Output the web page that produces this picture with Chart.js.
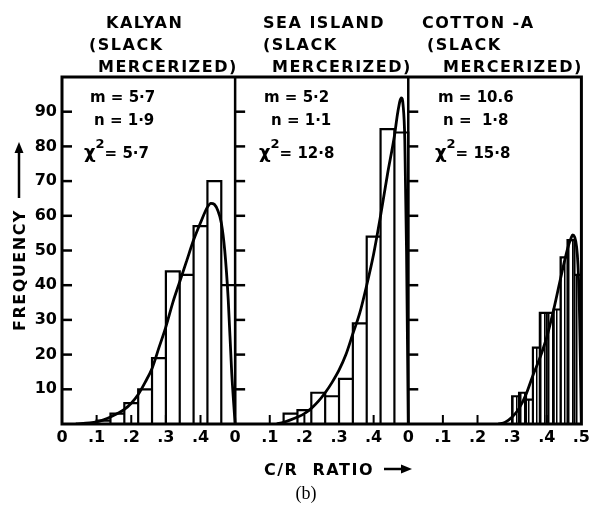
<!DOCTYPE html>
<html lang="en">
<head>
<meta charset="UTF-8">
<title>C/R ratio distributions</title>
<script src="https://cdn.jsdelivr.net/npm/chart.js"></script>
<style>
  html, body { margin: 0; padding: 0; background: #fff; }
  #wrap { width: 594px; height: 510px; }
</style>
</head>
<body>
<div id="wrap"><canvas id="crChart" width="594" height="510"></canvas></div>
<script>
// shared x axis: three panels, each running 0 - 0.5
const xTickValues = [0, 0.1, 0.2, 0.3, 0.4, 0.5, 0.6, 0.7, 0.8, 0.9, 1.0, 1.1, 1.2, 1.3, 1.4, 1.5];
const xTickLabels = ['0', '.1', '.2', '.3', '.4', '0', '.1', '.2', '.3', '.4', '0', '.1', '.2', '.3', '.4', '.5'];
const yTickValues = [10, 20, 30, 40, 50, 60, 70, 80, 90];
const panelOffsets = [0, 0.5, 1.0];

const panelTitles = [
    ['KALYAN', '(SLACK', 'MERCERIZED)'],
    ['SEA ISLAND', '(SLACK', 'MERCERIZED)'],
    ['COTTON -A', '(SLACK', 'MERCERIZED)']
];
const panelM = ['m = 5·7', 'm = 5·2', 'm = 10.6'];
const panelN = ['n = 1·9', 'n = 1·1', 'n =  1·8'];
const panelChi = ['= 5·7', '= 12·8', '= 15·8'];

// Kalyan
const kalyanEdges = [0.10, 0.14, 0.18, 0.22, 0.26, 0.30, 0.34, 0.38, 0.42, 0.46, 0.50];
const kalyanFreq = [1, 3, 6, 10, 19, 44, 43, 57, 70, 40];
const kalyanCurveX = [0.04, 0.08, 0.10, 0.12, 0.14, 0.16, 0.18, 0.20, 0.22, 0.24, 0.26, 0.28, 0.30, 0.32, 0.34, 0.36, 0.38, 0.40, 0.42, 0.43, 0.44, 0.45, 0.46, 0.47, 0.48, 0.49, 0.50];
const kalyanCurveY = [0, 0.3, 0.6, 1.2, 2, 3, 4.2, 6, 8.5, 12, 16, 22, 28, 35, 41, 47, 53, 58, 62.5, 63.6, 63.3, 61.5, 58, 50, 36, 15, 0];

// Sea Island
const seaEdges = [0.14, 0.18, 0.22, 0.26, 0.30, 0.34, 0.38, 0.42, 0.46, 0.50];
const seaFreq = [3, 4, 9, 8, 13, 29, 54, 85, 84];
const seaCurveX = [0.12, 0.14, 0.16, 0.18, 0.20, 0.22, 0.24, 0.26, 0.28, 0.30, 0.32, 0.34, 0.36, 0.38, 0.40, 0.42, 0.44, 0.46, 0.47, 0.48, 0.485, 0.49, 0.495, 0.50];
const seaCurveY = [0, 0.5, 1.2, 2, 3, 4.5, 6.5, 9, 12, 15.5, 20, 26, 32, 40, 49, 60, 72, 83, 90, 94, 92, 82, 50, 0];

// Cotton-A
const cottonEdges = [0.30, 0.32, 0.34, 0.36, 0.38, 0.40, 0.42, 0.44, 0.46, 0.48, 0.50];
const cottonFreq = [8, 9, 7, 22, 32, 32, 33, 48, 53, 43];
const cottonCurveX = [0.26, 0.28, 0.30, 0.32, 0.34, 0.36, 0.38, 0.40, 0.42, 0.44, 0.46, 0.47, 0.475, 0.48, 0.49, 0.495, 0.50];
const cottonCurveY = [0, 0.5, 2, 4.5, 8.5, 14, 19, 25, 33, 42, 50.5, 53.5, 54.5, 54, 46, 30, 0];

function histOutline(edges, freq, off) {
    const pts = [];
    for (let i = 0; i < freq.length; i++) {
        pts.push({x: edges[i] + off, y: 0}, {x: edges[i] + off, y: freq[i]},
                 {x: edges[i + 1] + off, y: freq[i]}, {x: edges[i + 1] + off, y: 0});
    }
    return pts;
}
function curvePoints(xs, ys, off) {
    return xs.map((v, i) => ({x: v + off, y: ys[i]}));
}

// vertical hatching used inside the Cotton-A bars
function hatch() {
    const c = document.createElement('canvas');
    c.width = 4; c.height = 4;
    const g = c.getContext('2d');
    g.fillStyle = '#000';
    g.fillRect(0, 0, 1.5, 4);
    return g.createPattern(c, 'repeat');
}

const histStyle = {showLine: true, borderColor: '#000', borderWidth: 2.2, pointRadius: 0, tension: 0, fill: false};
const curveStyle = {showLine: true, borderColor: '#000', borderWidth: 2.8, pointRadius: 0, cubicInterpolationMode: 'monotone', fill: false};

const datasets = [
    Object.assign({data: histOutline(kalyanEdges, kalyanFreq, panelOffsets[0])}, histStyle),
    Object.assign({data: histOutline(seaEdges, seaFreq, panelOffsets[1])}, histStyle),
    Object.assign({data: histOutline(cottonEdges, cottonFreq, panelOffsets[2])}, histStyle, {fill: 'origin', backgroundColor: hatch()}),
    Object.assign({data: curvePoints(kalyanCurveX, kalyanCurveY, panelOffsets[0])}, curveStyle),
    Object.assign({data: curvePoints(seaCurveX, seaCurveY, panelOffsets[1])}, curveStyle),
    Object.assign({data: curvePoints(cottonCurveX, cottonCurveY, panelOffsets[2])}, curveStyle)
];

const FONT = 'DejaVu Sans';

function drawArrowHead(ctx, x, y, dir) {
    ctx.beginPath();
    if (dir === 'up') {
        ctx.moveTo(x, y); ctx.lineTo(x - 4.5, y + 11); ctx.lineTo(x + 4.5, y + 11);
    } else {
        ctx.moveTo(x, y); ctx.lineTo(x - 11, y - 4.5); ctx.lineTo(x - 11, y + 4.5);
    }
    ctx.closePath();
    ctx.fill();
}

const framePlugin = {
    id: 'frame',
    afterDatasetsDraw(chart) {
        const {ctx, chartArea: a, scales: {x, y}} = chart;
        ctx.save();
        ctx.strokeStyle = '#000';
        ctx.lineWidth = 3;
        ctx.strokeRect(a.left, a.top, a.right - a.left, a.bottom - a.top);
        ctx.lineWidth = 2.5;
        [0.5, 1.0].forEach(v => {
            const px = x.getPixelForValue(v);
            ctx.beginPath(); ctx.moveTo(px, a.top); ctx.lineTo(px, a.bottom); ctx.stroke();
        });
        // inward y ticks on each panel's left edge
        ctx.lineWidth = 2.5;
        panelOffsets.forEach(off => {
            const px = x.getPixelForValue(off);
            yTickValues.forEach(v => {
                const py = y.getPixelForValue(v);
                ctx.beginPath(); ctx.moveTo(px, py); ctx.lineTo(px + 10, py); ctx.stroke();
            });
        });
        // small inward x ticks
        ctx.lineWidth = 2;
        xTickValues.forEach((v, i) => {
            if (i % 5 === 0) return;
            const px = x.getPixelForValue(v);
            ctx.beginPath(); ctx.moveTo(px, a.bottom); ctx.lineTo(px, a.bottom - 9); ctx.stroke();
        });
        ctx.restore();
    },
    afterDraw(chart) {
        const {ctx} = chart;
        ctx.save();
        ctx.fillStyle = '#000';
        ctx.strokeStyle = '#000';
        ctx.textBaseline = 'alphabetic';
        ctx.textAlign = 'left';

        // panel titles
        const titlePos = [
            [[106, 28], [89, 50], [98, 72]],
            [[263, 28], [263, 50], [272, 72]],
            [[422, 28], [427, 50], [443, 72]]
        ];
        ctx.font = 'bold 16px "' + FONT + '"';
        ctx.letterSpacing = '1.5px';
        panelTitles.forEach((lines, p) => {
            lines.forEach((t, k) => ctx.fillText(t, titlePos[p][k][0], titlePos[p][k][1]));
        });
        ctx.letterSpacing = '0px';

        // fit parameters
        const statX = [[90, 94, 84], [264, 271, 259], [438, 443, 435]];
        panelM.forEach((t, p) => {
            ctx.font = 'bold 15px "' + FONT + '"';
            ctx.fillText(t, statX[p][0], 102);
            ctx.fillText(panelN[p], statX[p][1], 125);
            const cx = statX[p][2];
            ctx.font = 'bold 18px "' + FONT + '"';
            ctx.fillText('χ', cx, 158);
            const w = ctx.measureText('χ').width;
            ctx.font = 'bold 13px "' + FONT + '"';
            ctx.fillText('2', cx + w, 148);
            ctx.font = 'bold 15px "' + FONT + '"';
            ctx.fillText(panelChi[p], cx + w + 9, 158);
        });

        // y title
        ctx.font = 'bold 16px "' + FONT + '"';
        ctx.letterSpacing = '1.5px';
        ctx.save();
        ctx.translate(25, 270);
        ctx.rotate(-Math.PI / 2);
        ctx.textAlign = 'center';
        ctx.fillText('FREQUENCY', 0, 0);
        ctx.restore();
        ctx.letterSpacing = '0px';
        ctx.lineWidth = 2.5;
        ctx.beginPath(); ctx.moveTo(19, 198); ctx.lineTo(19, 152); ctx.stroke();
        drawArrowHead(ctx, 19, 142, 'up');

        // x title
        ctx.font = 'bold 16px "' + FONT + '"';
        ctx.letterSpacing = '1.5px';
        ctx.fillText('C/R  RATIO', 264, 475);
        ctx.letterSpacing = '0px';
        ctx.beginPath(); ctx.moveTo(384, 469); ctx.lineTo(404, 469); ctx.stroke();
        drawArrowHead(ctx, 412, 469, 'right');

        ctx.font = '18px "Liberation Serif"';
        ctx.textAlign = 'center';
        ctx.fillText('(b)', 306, 499);
        ctx.restore();
    }
};

new Chart(document.getElementById('crChart'), {
    type: 'scatter',
    data: {datasets: datasets},
    options: {
        responsive: false,
        animation: false,
        devicePixelRatio: 1,
        layout: {padding: {top: 77, right: 4, left: 0, bottom: 0}},
        plugins: {legend: {display: false}, tooltip: {enabled: false}},
        scales: {
            x: {
                type: 'linear', min: 0, max: 1.5,
                afterBuildTicks: s => { s.ticks = xTickValues.map(v => ({value: v})); },
                afterFit: s => { s.height = 86; },
                grid: {display: false, drawTicks: false},
                border: {display: false},
                ticks: {
                    autoSkip: false, maxRotation: 0, padding: 4, color: '#000',
                    font: {family: FONT, size: 16, weight: 'bold'},
                    callback: (v, i) => xTickLabels[i]
                }
            },
            y: {
                min: 0, max: 100,
                afterBuildTicks: s => { s.ticks = yTickValues.map(v => ({value: v})); },
                afterFit: s => { s.width = 62; },
                grid: {display: false, drawTicks: false},
                border: {display: false},
                ticks: {padding: 5, color: '#000', font: {family: FONT, size: 16, weight: 'bold'}}
            }
        }
    },
    plugins: [framePlugin]
});
</script>
</body>
</html>
